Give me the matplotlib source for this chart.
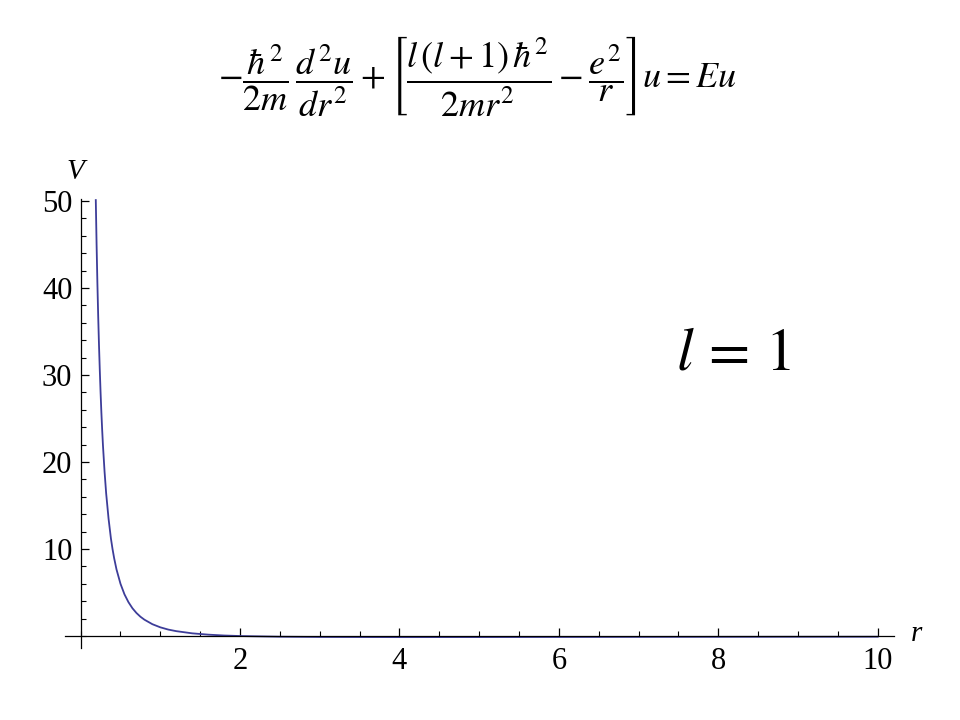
import matplotlib
matplotlib.use("Agg")
import matplotlib.pyplot as plt
from matplotlib.ticker import MultipleLocator, FixedLocator

plt.rcParams["mathtext.fontset"] = "stix"
plt.rcParams["font.family"] = ["Liberation Serif", "DejaVu Serif"]

# curve V(r) for l = 1
r_vals = [0.19, 0.20, 0.21, 0.22, 0.23, 0.24, 0.25, 0.26, 0.27, 0.28, 0.30, 0.32,
          0.35, 0.38, 0.40, 0.42, 0.45, 0.50, 0.55, 0.60, 0.65, 0.70, 0.75, 0.80,
          0.90, 1.0, 1.1, 1.2, 1.4, 1.6, 1.8, 2.0, 2.5, 3.0, 4.0, 5.0, 6.0, 7.0,
          8.0, 9.0, 10.0]
v_vals = [50.1, 45.0, 40.6, 36.8, 33.5, 30.6, 28.0, 25.7, 23.7, 21.9, 18.9, 16.4,
          13.5, 11.2, 10.0, 8.96, 7.65, 6.0, 4.79, 3.89, 3.19, 2.65, 2.22, 1.88,
          1.36, 1.0, 0.74, 0.56, 0.31, 0.16, 0.06, 0.0, -0.08, -0.11, -0.125, -0.12,
          -0.11, -0.10, -0.094, -0.086, -0.08]

x_major = [2, 4, 6, 8, 10]
y_major = [10, 20, 30, 40, 50]

fig = plt.figure(figsize=(9.6, 7.2), dpi=100)
ax = fig.add_axes([0.0674, 0.0997, 0.8635, 0.6236])

ax.plot(r_vals, v_vals, color="#3d3d99", lw=1.3)

ax.set_xlim(-0.2, 10.2)
ax.set_ylim(-1.4, 50.2)

for side in ["top", "right"]:
    ax.spines[side].set_visible(False)
ax.spines["left"].set_position(("data", 0))
ax.spines["bottom"].set_position(("data", 0))
for side in ["left", "bottom"]:
    ax.spines[side].set_linewidth(0.9)

ax.xaxis.set_major_locator(FixedLocator(x_major))
ax.yaxis.set_major_locator(FixedLocator(y_major))
ax.xaxis.set_minor_locator(MultipleLocator(0.5))
ax.yaxis.set_minor_locator(MultipleLocator(2))
ax.tick_params(which="major", direction="in", length=6, width=0.9, labelsize=22, pad=6)
ax.tick_params(which="minor", direction="in", length=3.5, width=0.8)
ax.tick_params(axis="x", pad=8)

# axis names
fig.text(75 / 960, 1 - 172 / 720, "V", fontsize=21, style="italic", ha="center", va="center")
fig.text(917 / 960, 1 - 634 / 720, "r", fontsize=21, style="italic", ha="center", va="center")

# equation on top
fig.text(477 / 960, 1 - 76 / 720,
         r"$-\dfrac{\hbar^2}{2m}\,\dfrac{d^2u}{dr^2}+\left[\dfrac{l\,(l+1)\,\hbar^2}{2mr^2}-\dfrac{e^2}{r}\right]u=Eu$",
         fontsize=26, ha="center", va="center")

fig.text(733 / 960, 1 - 356 / 720, r"$l\,=\,1$", fontsize=43, ha="center", va="center")

fig.savefig("out.png", dpi=100)
